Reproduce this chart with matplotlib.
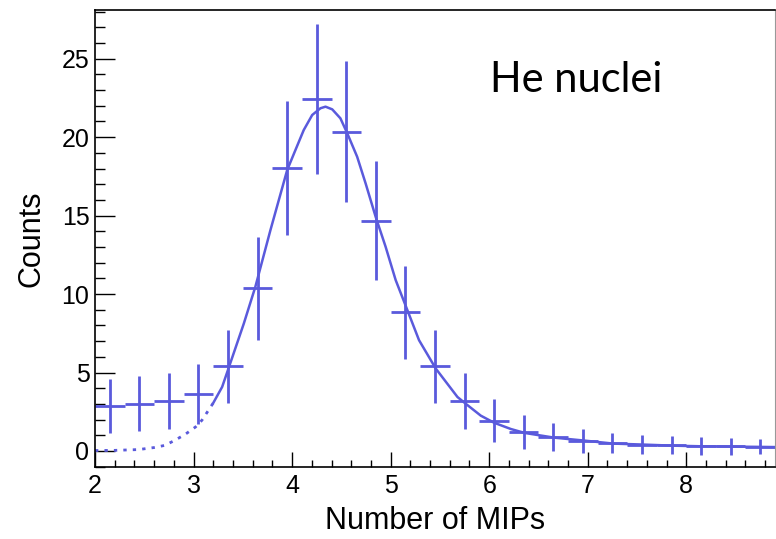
import numpy as np
import matplotlib.pyplot as plt
from matplotlib.ticker import MultipleLocator

# histogram: bin centres, contents and errors (bin width 0.3)
bin_centers = [2.15, 2.45, 2.75, 3.05, 3.35, 3.65, 3.95, 4.25, 4.55, 4.85, 5.15, 5.45,
               5.75, 6.05, 6.35, 6.65, 6.95, 7.25, 7.55, 7.85, 8.15, 8.45, 8.75]
counts = [2.87, 3.02, 3.19, 3.66, 5.40, 10.36, 18.05, 22.43, 20.34, 14.67, 8.83, 5.40,
          3.19, 1.94, 1.21, 0.89, 0.62, 0.51, 0.40, 0.36, 0.34, 0.31, 0.26]
errors = [1.72, 1.74, 1.77, 1.91, 2.32, 3.26, 4.28, 4.75, 4.50, 3.80, 2.98, 2.32,
          1.78, 1.36, 1.10, 0.92, 0.77, 0.66, 0.61, 0.58, 0.58, 0.54, 0.48]
bin_half_width = 0.15

# fit curve (dotted below the fit range start)
fit_x = [2.0, 2.2, 2.44, 2.6, 2.71, 2.81, 2.915, 3.02, 3.085, 3.2, 3.29, 3.36, 3.51,
         3.627, 3.78, 3.95, 4.034, 4.118, 4.204, 4.288, 4.339, 4.407, 4.49, 4.56, 4.66,
         4.746, 4.848, 4.949, 5.051, 5.17, 5.288, 5.458, 5.678, 5.76, 5.915, 6.05, 6.22,
         6.36, 6.66, 6.97, 7.26, 7.56, 7.86, 8.15, 8.46, 8.76, 8.9]
fit_y = [0.03, 0.04, 0.09, 0.22, 0.36, 0.68, 1.06, 1.53, 1.96, 3.06, 4.08, 5.36, 8.12,
         10.46, 14.07, 17.9, 19.18, 20.45, 21.41, 21.84, 21.94, 21.77, 21.2, 20.24, 18.75,
         17.05, 14.92, 13.01, 10.89, 8.97, 7.06, 5.25, 3.44, 3.02, 2.25, 1.80, 1.40,
         1.15, 0.85, 0.66, 0.47, 0.41, 0.34, 0.30, 0.28, 0.26, 0.25]
fit_start = 3.2

color = '#5a5adc'

fig = plt.figure(figsize=(7.76, 5.39), dpi=100)
ax = fig.add_axes([95 / 776, 1 - 467 / 539, 680 / 776, 457 / 539])

ax.errorbar(bin_centers, counts, xerr=bin_half_width, yerr=errors, fmt='none',
            ecolor=color, elinewidth=2.0, capsize=0)

fx = np.array(fit_x)
fy = np.array(fit_y)
low = fx <= fit_start
high = fx >= fit_start
ax.plot(fx[low], fy[low], color=color, lw=2.0, linestyle=(0, (1.2, 2.2)))
ax.plot(fx[high], fy[high], color=color, lw=1.8, solid_joinstyle='round')

ax.set_xlim(2, 8.9)
ax.set_ylim(-1.02, 28.1)

ax.xaxis.set_major_locator(MultipleLocator(1))
ax.xaxis.set_minor_locator(MultipleLocator(0.2))
ax.yaxis.set_major_locator(MultipleLocator(5))
ax.yaxis.set_minor_locator(MultipleLocator(1))

ax.tick_params(axis='x', which='major', direction='in', length=10.8, width=1.0, pad=5)
ax.tick_params(axis='x', which='minor', direction='in', length=5.4, width=1.0)
ax.tick_params(axis='y', which='major', direction='in', length=14.4, width=1.0, pad=4)
ax.tick_params(axis='y', which='minor', direction='in', length=7.2, width=1.0)
for lab in ax.get_xticklabels() + ax.get_yticklabels():
    lab.set_fontfamily('Liberation Sans')
    lab.set_fontsize(18)

for side in ['top', 'bottom', 'left']:
    ax.spines[side].set_linewidth(1.2)
ax.spines['right'].set_color('#999999')

ax.set_xlabel('Number of MIPs', fontfamily='Liberation Sans', fontsize=22)
ax.set_ylabel('Counts', fontfamily='Liberation Sans', fontsize=22)
ax.xaxis.set_label_coords(0.5, -0.085)
ax.yaxis.set_label_coords(-0.072, 0.5)

fig.text(490 / 776, 1 - 92 / 539, 'He nuclei', fontfamily='Lato', fontsize=30,
         ha='left', va='baseline')

fig.savefig('out.png', dpi=100)
